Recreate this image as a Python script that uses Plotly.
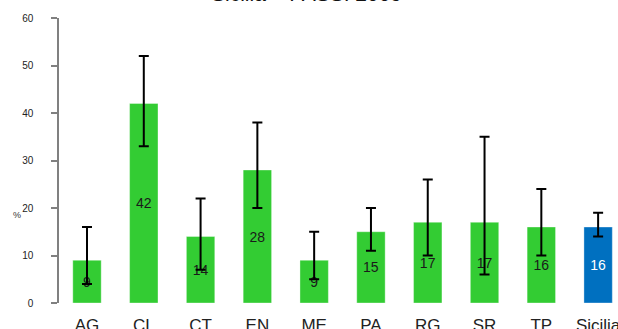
import plotly.graph_objects as go

categories = ["AG", "CL", "CT", "EN", "ME", "PA", "RG", "SR", "TP", "Sicilia"]
values = [9, 42, 14, 28, 9, 15, 17, 17, 16, 16]
upper = [16, 52, 22, 38, 15, 20, 26, 35, 24, 19]
lower = [4, 33, 7, 20, 5, 11, 10, 6, 10, 14]
colors = ["#33CC33"] * 9 + ["#0070C0"]
text_colors = ["#1a1a1a"] * 9 + ["#ffffff"]
y_ticks = [0, 10, 20, 30, 40, 50, 60]

err_plus = [u - v for u, v in zip(upper, values)]
err_minus = [v - l for v, l in zip(values, lower)]

fig = go.Figure()
fig.add_trace(go.Bar(
    x=categories, y=values,
    marker=dict(color=colors, line=dict(color="rgba(255,255,255,0.35)", width=1)),
    width=0.5,
    text=[str(v) for v in values],
    textposition="inside", insidetextanchor="middle", textangle=0,
    textfont=dict(family="Liberation Sans, Arial", size=14, color=text_colors),
    error_y=dict(type="data", symmetric=False, array=err_plus, arrayminus=err_minus,
                 color="black", thickness=2, width=5),
    hoverinfo="skip",
))

fig.update_layout(
    width=618, height=329,
    margin=dict(l=59, r=0, t=18, b=26),
    plot_bgcolor="white", paper_bgcolor="white",
    showlegend=False,
    font=dict(family="Liberation Sans, Arial", color="#222"),
    xaxis=dict(range=[-0.493, 9.35], showline=False, ticks="", automargin=False,
               tickfont=dict(size=17, color="#222"), ticklabelstandoff=10,
               showgrid=False, zeroline=False),
    yaxis=dict(range=[0, 60], tickvals=y_ticks, showgrid=False, zeroline=False,
               automargin=False,
               showline=True, linecolor="#808080", linewidth=1.5,
               ticks="outside", ticklen=6, tickcolor="#808080", tickwidth=1.5,
               tickfont=dict(size=10, color="#222"), ticklabelstandoff=16),
    annotations=[
        dict(text="%", xref="paper", yref="y", x=-0.075, y=18.5, showarrow=False,
             font=dict(size=9, color="#333"), xanchor="center", yanchor="middle"),
    ],
)
# title partially cropped above the top edge
fig.add_annotation(text="Sicilia – PASSI 2009", xref="paper", yref="paper",
                   x=(306 - 59) / 559, y=1 + 24 / 285, showarrow=False,
                   font=dict(size=21, color="#111"), xanchor="center", yanchor="middle")

fig.write_html("out.html", config={"displayModeBar": False},
               post_script="document.body.style.margin='0';")
